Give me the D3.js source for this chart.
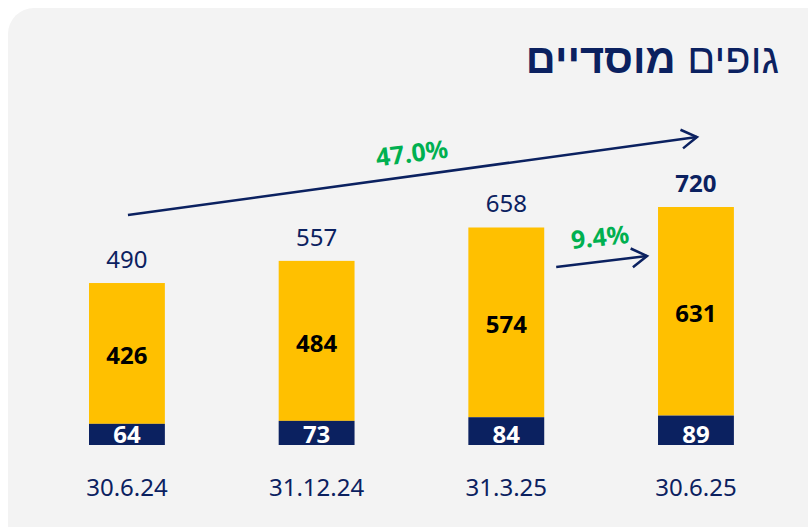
<!DOCTYPE html>
<html>
<head>
<meta charset="utf-8">
<script src="https://cdn.jsdelivr.net/npm/d3@7"></script>
<style>
  body { margin: 0; background: #ffffff; }
  svg { display: block; font-family: "Noto Sans", sans-serif; }
</style>
</head>
<body>
<script>
// data
var dates = ["30.6.24", "31.12.24", "31.3.25", "30.6.25"];
var navyValues = [64, 73, 84, 89];
var yellowValues = [426, 484, 574, 631];
var totals = [490, 557, 658, 720];
var growthLabels = ["47.0%", "9.4%"];

var width = 808, height = 527;
var navy = "#0b2160", yellow = "#ffc000", green = "#00b050";

var svg = d3.select("body").append("svg")
  .attr("width", width)
  .attr("height", height);

// card background
svg.append("rect")
  .attr("x", 8).attr("y", 8)
  .attr("width", 840).attr("height", 560)
  .attr("rx", 26)
  .attr("fill", "#f3f3f3");

// title (RTL)
var title = svg.append("text")
  .attr("x", 779).attr("y", 73)
  .attr("direction", "rtl")
  .attr("text-anchor", "start")
  .style("font-family", "'Liberation Sans', Arial, sans-serif")
  .style("font-size", "41.5px")
  .style("fill", navy);
title.append("tspan").text("גופים ");
title.append("tspan").style("font-weight", "bold").text("מוסדיים");

// scales
var x = d3.scaleBand()
  .domain(dates)
  .range([32.1, 790.8])
  .paddingInner(0.6)
  .paddingOuter(0.3);

var y = d3.scaleLinear()
  .domain([0, 720])
  .range([445, 207]);

var rows = dates.map(function(d, i) {
  return { date: d, navy: navyValues[i], yellow: yellowValues[i], total: totals[i], i: i };
});

// yellow segments
svg.selectAll(".bar-top").data(rows).enter().append("rect")
  .attr("class", "bar-top")
  .attr("x", function(d) { return x(d.date); })
  .attr("width", x.bandwidth())
  .attr("y", function(d) { return y(d.navy + d.yellow); })
  .attr("height", function(d) { return y(d.navy) - y(d.navy + d.yellow); })
  .attr("fill", yellow);

// navy segments
svg.selectAll(".bar-bottom").data(rows).enter().append("rect")
  .attr("class", "bar-bottom")
  .attr("x", function(d) { return x(d.date); })
  .attr("width", x.bandwidth())
  .attr("y", function(d) { return y(d.navy); })
  .attr("height", function(d) { return y(0) - y(d.navy); })
  .attr("fill", navy);

var cx = function(d) { return x(d.date) + x.bandwidth() / 2; };

// labels inside yellow
svg.selectAll(".lbl-top").data(rows).enter().append("text")
  .attr("x", cx)
  .attr("y", function(d) { return (y(d.navy) + y(d.navy + d.yellow)) / 2 + 11; })
  .attr("text-anchor", "middle")
  .style("font-size", "24px").style("font-weight", "bold").style("fill", "#000")
  .text(function(d) { return d.yellow; });

// labels inside navy
svg.selectAll(".lbl-bottom").data(rows).enter().append("text")
  .attr("x", cx)
  .attr("y", function(d) { return y(0) - 2; })
  .attr("text-anchor", "middle")
  .style("font-size", "24px").style("font-weight", "bold").style("fill", "#fff")
  .text(function(d) { return d.navy; });

// totals
svg.selectAll(".lbl-total").data(rows).enter().append("text")
  .attr("x", cx)
  .attr("y", function(d) { return y(d.total) - 15; })
  .attr("text-anchor", "middle")
  .style("font-size", "24px")
  .style("font-weight", function(d) { return d.i === 3 ? "bold" : "normal"; })
  .style("fill", navy)
  .text(function(d) { return d.total; });

// x axis labels
svg.selectAll(".lbl-date").data(rows).enter().append("text")
  .attr("x", cx)
  .attr("y", 496)
  .attr("text-anchor", "middle")
  .style("font-size", "24px")
  .style("fill", navy)
  .text(function(d) { return d.date; });

// arrows
function arrow(x1, y1, x2, y2) {
  svg.append("line")
    .attr("x1", x1).attr("y1", y1).attr("x2", x2).attr("y2", y2)
    .attr("stroke", navy).attr("stroke-width", 2.5);
  var a = Math.atan2(y2 - y1, x2 - x1), len = 18, sp = 0.55;
  var p1 = [x2 - len * Math.cos(a - sp), y2 - len * Math.sin(a - sp)];
  var p2 = [x2 - len * Math.cos(a + sp), y2 - len * Math.sin(a + sp)];
  svg.append("path")
    .attr("d", "M" + p1 + "L" + [x2, y2] + "L" + p2)
    .attr("fill", "none").attr("stroke", navy).attr("stroke-width", 2.5);
}

var c0 = cx(rows[0]), c3 = cx(rows[3]);
arrow(c0 + 1, 215, c3 + 1, 137);
arrow(x(dates[2]) + x.bandwidth() + 12, 267, x(dates[3]) - 11, 256);

function growth(txt, px, py, ang) {
  svg.append("text")
    .attr("transform", "translate(" + px + "," + py + ") rotate(" + ang + ")")
    .attr("text-anchor", "middle")
    .style("font-size", "25px").style("font-weight", "bold").style("fill", green)
    .text(txt);
}
growth(growthLabels[0], 413, 162, -7);
growth(growthLabels[1], 601, 246, -6);
</script>
</body>
</html>
